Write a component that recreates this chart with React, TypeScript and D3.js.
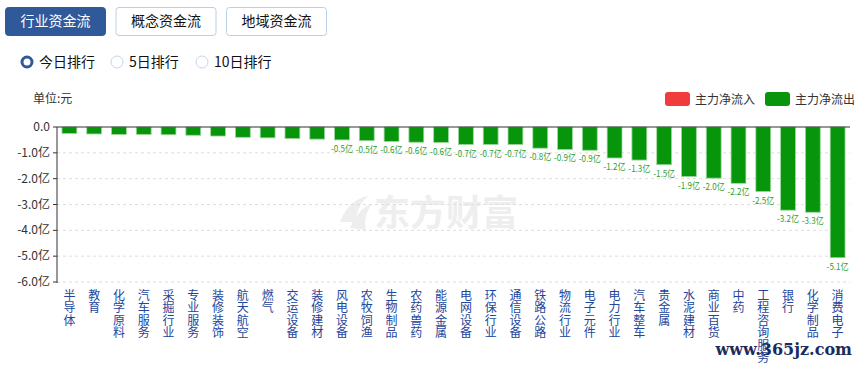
import React from 'react';
import * as d3 from 'd3';

const categories = ['半导体', '教育', '化学原料', '汽车服务', '采掘行业', '专业服务', '装修装饰', '航天航空', '燃气', '交运设备', '装修建材', '风电设备', '农牧饲渔', '生物制品', '农药兽药', '能源金属', '电网设备', '环保行业', '通信设备', '铁路公路', '物流行业', '电子元件', '电力行业', '汽车整车', '贵金属', '水泥建材', '商业百货', '中药', '工程咨询服务', '银行', '化学制品', '消费电子'];
const values = [-0.25, -0.27, -0.29, -0.29, -0.3, -0.32, -0.35, -0.4, -0.42, -0.45, -0.47, -0.5, -0.53, -0.56, -0.59, -0.6, -0.68, -0.68, -0.68, -0.82, -0.87, -0.9, -1.2, -1.28, -1.46, -1.92, -1.98, -2.18, -2.5, -3.22, -3.3, -5.06];
const yTicks = [0, -1, -2, -3, -4, -5, -6];
const tabs = ['行业资金流', '概念资金流', '地域资金流'];
const radios = ['今日排行', '5日排行', '10日排行'];
const legend = [{ name: '主力净流入', color: '#f03c3c' }, { name: '主力净流出', color: '#07960b' }];

const font = '"Noto Sans CJK SC", "Noto Sans", sans-serif';

export default function App() {
    const margin = { top: 127, left: 57, right: 850, bottom: 282 };

    const x = d3.scaleBand<string>()
        .domain(categories)
        .range([margin.left, margin.right])
        .paddingInner(0.4)
        .paddingOuter(0.2);

    const y = d3.scaleLinear().domain([-6, 0]).range([margin.bottom, margin.top]);

    const fmtTick = (v: number) => (v === 0 ? '0.0' : v.toFixed(1) + '亿');

    return (
        <svg width={859} height={365} style={{ position: 'absolute', left: 0, top: 0, background: '#fff' }} fontFamily={font}>
            {/* tabs */}
            {tabs.map((t, i) => {
                const bx = 5 + i * 110.5;
                const active = i === 0;
                return (
                    <g key={t}>
                        <rect x={bx + 0.5} y={7.5} width={100} height={28} rx={3}
                              fill={active ? '#30599a' : '#fff'} stroke={active ? '#30599a' : '#b9d0e8'} />
                        <text x={bx + 50.5} y={26} textAnchor="middle" fontSize={14}
                              fill={active ? '#fff' : '#111'}>{t}</text>
                    </g>
                );
            })}

            {/* radios */}
            {radios.map((r, i) => {
                const cx = [27, 117, 202][i];
                const active = i === 0;
                return (
                    <g key={r}>
                        <circle cx={cx} cy={62} r={active ? 5 : 6} fill="#fff"
                                stroke={active ? '#30599a' : '#c3d6ea'} strokeWidth={active ? 3 : 1} />
                        <text x={cx + 12} y={67} fontSize={14} fill="#111">{r}</text>
                    </g>
                );
            })}

            <text x={33} y={103} fontSize={12} fill="#333">单位:元</text>

            {/* legend */}
            {legend.map((l, i) => {
                const lx = 665 + i * 100;
                return (
                    <g key={l.name}>
                        <rect x={lx} y={92} width={25} height={14} rx={3} fill={l.color} />
                        <text x={lx + 30} y={104} fontSize={12} fill="#333">{l.name}</text>
                    </g>
                );
            })}

            {/* watermark */}
            <g fill="#eeeeee">
                <path d="M340,222 C346,206 356,198 368,196 C360,204 356,212 356,222 Z" />
                <path d="M350,228 C356,214 364,206 372,204 C366,212 364,220 366,230 Z" />
            </g>
            <text x={446} y={226} textAnchor="middle" fontSize={36} fontWeight="bold" fill="#eeeeee">东方财富</text>

            {/* grid */}
            {yTicks.map(t => (
                <g key={t}>
                    {t !== 0 && (
                        <line x1={margin.left} x2={margin.right} y1={y(t)} y2={y(t)}
                              stroke="#dedede" strokeDasharray="3,3" />
                    )}
                    <line x1={margin.left - 4} x2={margin.left} y1={y(t)} y2={y(t)} stroke="#333" />
                    <text x={50} y={y(t) + 4} textAnchor="end" fontSize={12} fill="#333">{fmtTick(t)}</text>
                </g>
            ))}

            {/* bars */}
            {categories.map((c, i) => {
                const v = values[i];
                const bx = x(c)!;
                const cx = bx + x.bandwidth() / 2;
                const h = y(v) - y(0);
                const label = v.toFixed(1) + '亿';
                return (
                    <g key={c}>
                        <rect x={bx} y={y(0)} width={x.bandwidth()} height={h}
                              fill="#07960b" stroke="#9fd79f" strokeWidth={0.8} />
                        {v <= -0.5 && (
                            <text x={cx} y={y(v) + 12} textAnchor="middle"
                                  fontSize={9.5} fill="#2f9e2f"
                                  textLength={label.length * 4.4} lengthAdjust="spacingAndGlyphs">{label}</text>
                        )}
                        <text x={cx} y={289} fontSize={12} fill="#23459b"
                              style={{ writingMode: 'vertical-rl', letterSpacing: '0.5px' }}>{c}</text>
                    </g>
                );
            })}

            {/* axes */}
            <line x1={margin.left} x2={margin.left} y1={margin.top} y2={margin.bottom + 1} stroke="#333" />
            <line x1={margin.left} x2={margin.right} y1={margin.top} y2={margin.top} stroke="#333" strokeWidth={1.2} />

            <text x={852} y={355} textAnchor="end" fontSize={16} fontWeight="bold"
                  fontFamily='"DejaVu Serif", serif' fill="#1b2b5e">www.365jz.com</text>
        </svg>
    );
}
